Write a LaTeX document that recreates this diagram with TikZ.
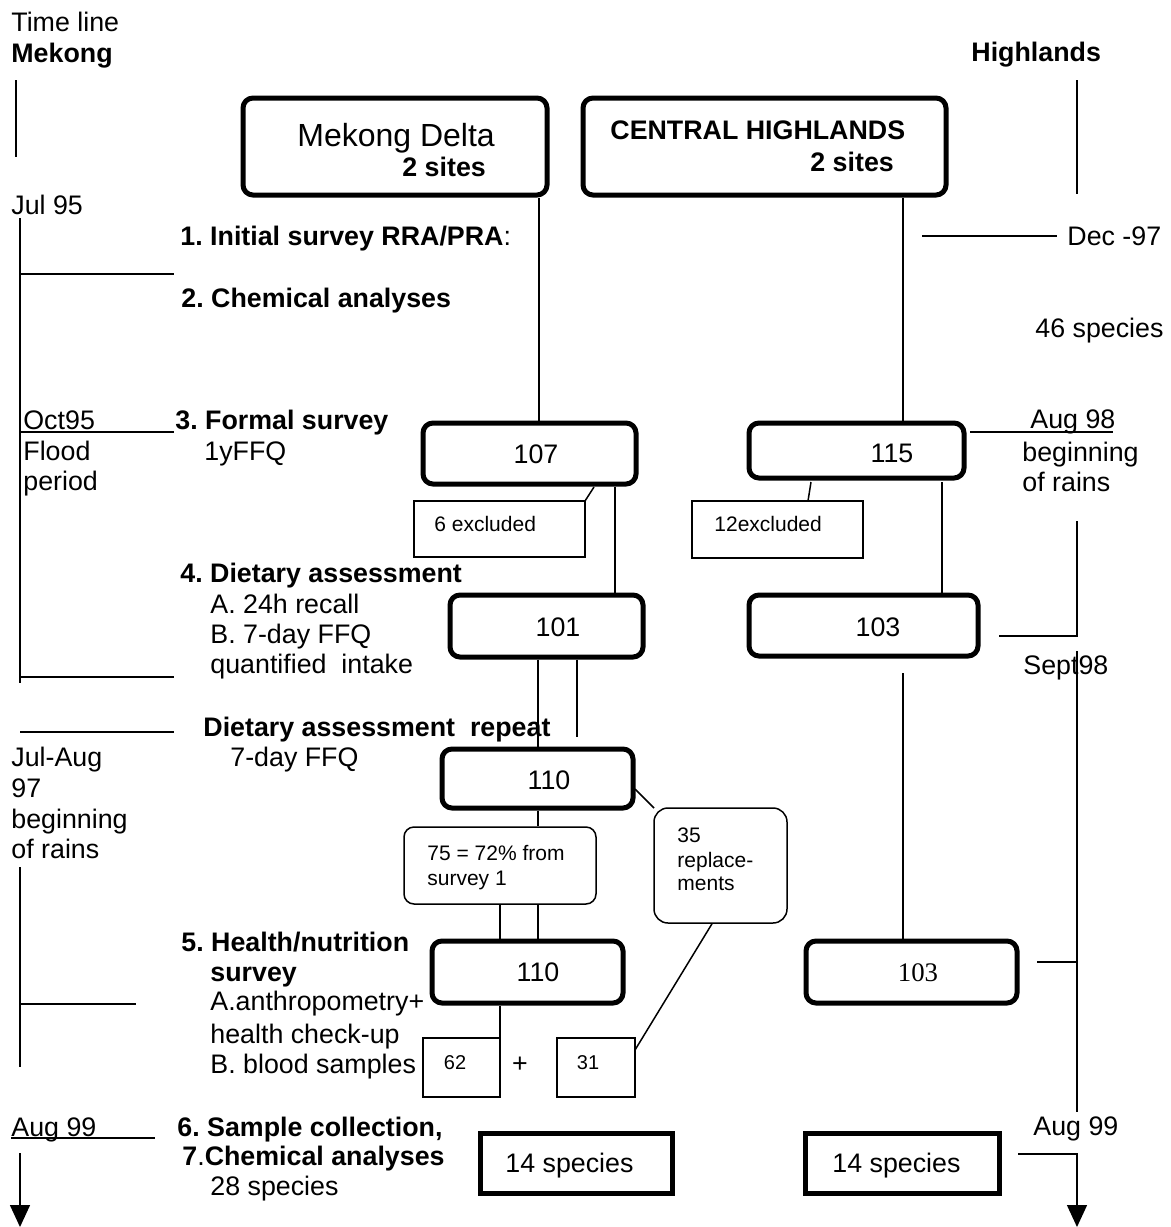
\documentclass[tikz,border=0pt]{standalone}
\usepackage{fontspec}
\setmainfont{Liberation Sans}
\newfontfamily\tnr{Liberation Serif}
\usetikzlibrary{arrows.meta}
\frenchspacing
\begin{document}
\begin{tikzpicture}[x=0.5pt,y=-0.5pt,
  txt/.style={font=\fontsize{13.4}{15}\selectfont, inner sep=0pt, anchor=base west},
  txtb/.style={font=\fontsize{13.4}{15}\selectfont\bfseries, inner sep=0pt, anchor=base west},
  sm/.style={font=\fontsize{10.5}{12}\selectfont, inner sep=0pt, anchor=base west},
  num/.style={font=\fontsize{13.4}{15}\selectfont, inner sep=0pt, anchor=base},
  smnum/.style={font=\fontsize{10}{12}\selectfont, inner sep=0pt, anchor=base},
  rbox/.style={draw, line width=2.5pt, rounded corners=5pt, inner sep=0pt},
  sbox/.style={draw, line width=2.5pt, inner sep=0pt},
  tbox/.style={draw, line width=0.75pt, inner sep=0pt, outer sep=0pt},
  trbox/.style={draw, line width=0.75pt, rounded corners=5pt, inner sep=0pt},
  ln/.style={line width=0.75pt},
  arr/.style={line width=0.75pt, -{Triangle[width=10pt,length=11pt]}}
]
\useasboundingbox (0,0) rectangle (1171,1227);

% ---------- boxes ----------
\node[rbox, minimum width=152pt, minimum height=48.5pt] (bMD) at (395,146.5) {};
\node[rbox, minimum width=181.5pt, minimum height=48.5pt] (bCH) at (764.5,146.5) {};
\node[rbox, minimum width=106.5pt, minimum height=30.5pt] (b107) at (529.5,453.5) {};
\node[rbox, minimum width=107.5pt, minimum height=27.5pt] (b115) at (856.5,450.5) {};
\node[tbox, minimum width=85.5pt, minimum height=28pt] (bEx6) at (499.5,529) {};
\node[tbox, minimum width=85.5pt, minimum height=28.5pt] (bEx12) at (777.5,529.5) {};
\node[rbox, minimum width=96.5pt, minimum height=31pt] (b101) at (546.5,626) {};
\node[rbox, minimum width=114.5pt, minimum height=30.5pt] (b103a) at (863.5,625.5) {};
\node[rbox, minimum width=95.5pt, minimum height=29.5pt] (b110a) at (537.5,778.5) {};
\node[trbox, minimum width=96pt, minimum height=38.5pt] (b75) at (500,865.5) {};
\node[trbox, rounded corners=7pt, minimum width=66.5pt, minimum height=57.5pt] (b35) at (720.5,865.5) {};
\node[rbox, minimum width=95.5pt, minimum height=31pt] (b110b) at (527.5,972) {};
\node[rbox, minimum width=105.5pt, minimum height=31pt] (b103b) at (911.5,972) {};
\node[tbox, minimum width=38.5pt, minimum height=29.5pt] (b62) at (461.5,1067.5) {};
\node[tbox, minimum width=39pt, minimum height=29.5pt] (b31) at (596,1067.5) {};
\node[sbox, minimum width=96pt, minimum height=30pt] (bS1) at (576,1163) {};
\node[sbox, minimum width=97pt, minimum height=30pt] (bS2) at (902,1163) {};

% ---------- texts ----------
\node[txt] (tTime) at (11,31) {Time line};
\node[txtb] (tMek) at (11,62) {Mekong};
\node[txtb] (tHigh) at (971,61) {Highlands};
\node[font=\fontsize{16}{19}\selectfont, inner sep=0pt, anchor=base west] (tMD) at (297,146) {Mekong Delta};
\node[txtb] (tMD2) at (402,176) {2 sites};
\node[txtb] (tCH) at (610,139) {CENTRAL HIGHLANDS};
\node[txtb] (tCH2) at (810,171) {2 sites};
\node[txt] (tJul) at (11,214) {Jul 95};
\node[txt] (t1) at (180,245) {\textbf{1. Initial survey RRA/PRA}:};
\node[txt] (tDec) at (1067,245) {Dec -97};
\node[txtb] (t2) at (181,307) {2. Chemical analyses};
\node[txt] (t46) at (1035,337) {46 species};
\node[txt] (tOct) at (23,429) {Oct95};
\node[txtb] (t3) at (175,429) {3. Formal survey};
\node[txt] (tAug98) at (1030,428) {Aug 98};
\node[num] (n107) at (536,463) {107};
\node[num] (n115) at (892,462) {115};
\node[txt] (tFlood) at (23,460) {Flood};
\node[txt] (tPeriod) at (23,490) {period};
\node[txt] (tFFQ1) at (204,460) {1yFFQ};
\node[txt] (tBeg1) at (1022,461) {beginning};
\node[txt] (tRain1) at (1022,491) {of rains};
\node[sm] (tEx6) at (434,531) {6 excluded};
\node[sm] (tEx12) at (714,531) {12excluded};
\node[txtb] (t4) at (180,582) {4. Dietary assessment};
\node[txt] (t4a) at (210,613) {A. 24h recall};
\node[txt] (t4b) at (210,643) {B. 7-day FFQ};
\node[txt] (t4c) at (210,673) {quantified\ \ intake};
\node[num] (n101) at (558,636) {101};
\node[num] (n103a) at (878,636) {103};
\node[txt] (tSept) at (1023,674) {Sept98};
\node[txtb] (tRep) at (203,736) {Dietary assessment\ \ repeat};
\node[txt] (tRep2) at (230,766) {7-day FFQ};
\node[txt] (tJA1) at (11,766) {Jul-Aug};
\node[txt] (tJA2) at (11,797) {97};
\node[txt] (tJA3) at (11,828) {beginning};
\node[txt] (tJA4) at (11,858) {of rains};
\node[num] (n110a) at (549,789) {110};
\node[sm] (t75a) at (427,860.5) {75 = 72\% from};
\node[sm] (t75b) at (427,885.5) {survey 1};
\node[sm] (t35a) at (677,842.5) {35};
\node[sm] (t35b) at (677,867.5) {replace-};
\node[sm] (t35c) at (677,890.5) {ments};
\node[txtb] (t5) at (181,951) {5. Health/nutrition};
\node[txtb] (t5b) at (210,981) {survey};
\node[num] (n110b) at (538,981) {110};
\node[num, font=\fontsize{13.4}{15}\selectfont\tnr] (n103b) at (918,981) {103};
\node[txt] (t5c) at (210,1010) {A.anthropometry+};
\node[txt] (t5d) at (210,1043) {health check-up};
\node[txt] (t5e) at (210,1073) {B. blood samples};
\node[smnum] (n62) at (455,1069) {62};
\node[num] (nPlus) at (520,1072) {+};
\node[smnum] (n31) at (588,1069) {31};
\node[txt] (tAug99a) at (11,1136) {Aug 99};
\node[txtb] (t6) at (177,1136) {6. Sample collection,};
\node[txt] (tAug99b) at (1033,1135) {Aug 99};
\node[txt] (t7) at (182,1165) {\textbf{7}.\textbf{Chemical analyses}};
\node[txt] (tS1) at (505,1172) {14 species};
\node[txt] (tS2) at (832,1172) {14 species};
\node[txt] (t28) at (210,1195) {28 species};

% ---------- helper coordinates ----------
\coordinate (xMD) at (539,0);
\coordinate (xCH) at (903,0);
\coordinate (x615) at (615,0);
\coordinate (x942) at (942,0);
\coordinate (x538) at (538,0);
\coordinate (x577) at (577,0);
\coordinate (x500) at (500,0);
\coordinate (x712) at (712,0);

% ---------- connectors ----------
\draw[ln] (bMD.south -| xMD) -- (b107.north -| xMD);
\draw[ln] (bCH.south -| xCH) -- (b115.north -| xCH);
\draw[ln] (594,487) -- (bEx6.north east);
\draw[ln] (811,482) -- (808,501);
\draw[ln] (615,487) -- (b101.north -| x615);
\draw[ln] (942,482) -- (b103a.north -| x942);
\draw[ln] (b101.south -| x538) -- (b110a.north -| x538);
\draw[ln] (b101.south -| x577) -- (577,737);
\draw[ln] (b110a.south -| x538) -- (b75.north -| x538);
\draw[ln] (635,789) -- (654,808);
\draw[ln] (b75.south -| x500) -- (b110b.north -| x500);
\draw[ln] (b75.south -| x538) -- (b110b.north -| x538);
\draw[ln] (b110b.south -| x500) -- (b62.north -| x500);
\draw[ln] (b35.south -| x712) -- (635,1050);
\draw[ln] (903,673) -- (b103b.north -| xCH);

% ---------- time lines ----------
\draw[ln] (16,80) -- (16,157);
\draw[ln] (1077,80) -- (1077,194);
\draw[ln] (20,218) -- (20,683);
\draw[ln] (20,274) -- (174,274);
\draw[ln] (20,432) -- (174,432);
\draw[ln] (20,677) -- (174,677);
\draw[ln] (20,732) -- (174,732);
\draw[ln] (20,867) -- (20,1067);
\draw[ln] (20,1004) -- (136,1004);
\draw[ln] (11,1138) -- (155,1138);
\draw[arr] (20,1153) -- (20,1227);
\draw[ln] (922,236) -- (1057,236);
\draw[ln] (970,432) -- (1113,432);
\draw[ln] (1077,521) -- (1077,636) -- (999,636);
\draw[ln] (1077,651) -- (1077,1112);
\draw[ln] (1037,962) -- (1077,962);
\draw[arr] (1018,1154) -- (1077,1154) -- (1077,1227);
\end{tikzpicture}
\end{document}
